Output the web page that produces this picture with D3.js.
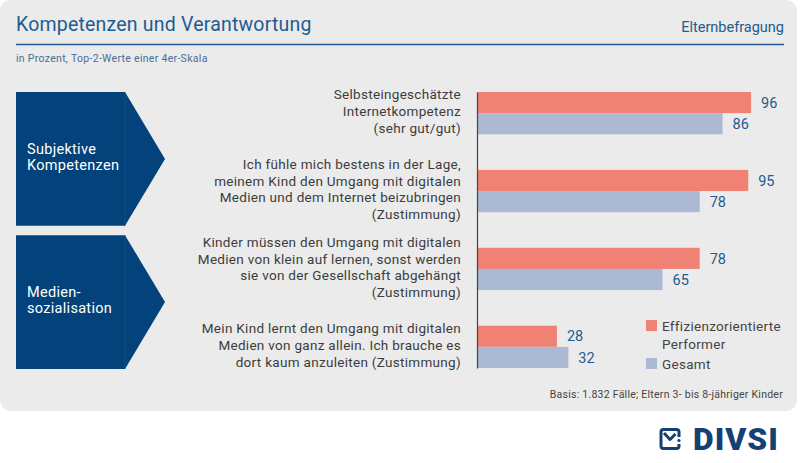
<!DOCTYPE html>
<html><head><meta charset="utf-8">
<script src="https://cdn.jsdelivr.net/npm/d3@7"></script>
<style>
html,body{margin:0;padding:0;background:#fff;}
svg{display:block;font-family:Roboto,"DejaVu Sans",sans-serif;}
</style></head>
<body>
<svg id="chart" width="800" height="463"></svg>
<script>
const title = "Kompetenzen und Verantwortung";
const topRight = "Elternbefragung";
const subtitle = "in Prozent, Top-2-Werte einer 4er-Skala";
const footnote = "Basis: 1.832 Fälle; Eltern 3- bis 8-jähriger Kinder";

const sections = ["Subjektive Kompetenzen", "Mediensozialisation"];
const sectionLines = [["Subjektive", "Kompetenzen"], ["Medien-", "sozialisation"]];

const categories = ["c1", "c2", "c3", "c4"];
const categoryLines = [
  ["Selbsteingeschätzte", "Internetkompetenz", "(sehr gut/gut)"],
  ["Ich fühle mich bestens in der Lage,", "meinem Kind den Umgang mit digitalen", "Medien und dem Internet beizubringen", "(Zustimmung)"],
  ["Kinder müssen den Umgang mit digitalen", "Medien von klein auf lernen, sonst werden", "sie von der Gesellschaft abgehängt", "(Zustimmung)"],
  ["Mein Kind lernt den Umgang mit digitalen", "Medien von ganz allein. Ich brauche es", "dort kaum anzuleiten (Zustimmung)"]
];
const seriesNames = ["Effizienzorientierte Performer", "Gesamt"];
const legendLines = [["Effizienzorientierte", "Performer"], ["Gesamt"]];
const effizienz = [96, 95, 78, 28];
const gesamt = [86, 78, 65, 32];

const colors = ["#f08275", "#abb9d5"];
const blue = "#1f5b92";
const navy = "#03427a";

const svg = d3.select("#chart");

// panel
svg.append("rect").attr("x", 0).attr("y", 0).attr("width", 797).attr("height", 411)
  .attr("rx", 11).attr("fill", "#ebebeb");

// header
svg.append("text").attr("x", 16).attr("y", 31).attr("font-size", 19.5)
  .attr("letter-spacing", 0.2).attr("fill", blue).text(title);
svg.append("text").attr("x", 784).attr("y", 32).attr("text-anchor", "end")
  .attr("font-size", 14.5).attr("fill", blue).text(topRight);
svg.append("line").attr("x1", 16).attr("x2", 784).attr("y1", 44.5).attr("y2", 44.5)
  .attr("stroke", blue).attr("stroke-width", 1.5);
svg.append("text").attr("x", 16).attr("y", 62).attr("font-size", 10.5)
  .attr("letter-spacing", 0.3).attr("fill", "#4a6d93").text(subtitle);

// scales
const x = d3.scaleLinear().domain([0, 100]).range([477, 762.5]);
const y = d3.scaleBand().domain(categories).range([92, 368]).paddingInner(0.457);
const ySub = d3.scaleBand().domain([0, 1]).range([0, y.bandwidth()]);
const ySec = d3.scaleBand().domain(sections).range([92, 369]).paddingInner(0.065);

// section arrows
const secG = svg.append("g");
sections.forEach((s, i) => {
  const t = ySec(s), b = t + ySec.bandwidth(), m = (t + b) / 2;
  const xl = 16, xr = 125, xp = 165;
  secG.append("path")
    .attr("d", `M${xl},${t}L${xr},${t}L${xp},${m}L${xr},${b}L${xl},${b}Z`)
    .attr("fill", navy);
  secG.append("line").attr("x1", xr).attr("x2", xr).attr("y1", t).attr("y2", b)
    .attr("stroke", "#1a5088").attr("stroke-width", 0.8);
  const lines = sectionLines[i];
  const lh = 16.8;
  const tx = secG.append("text").attr("font-size", 14.5).attr("fill", "#fff")
    .attr("letter-spacing", 0.3);
  lines.forEach((l, j) => {
    tx.append("tspan").attr("x", 27)
      .attr("y", m - (lines.length - 1) / 2 * lh + j * lh + 3)
      .text(l);
  });
});

// category labels
const labG = svg.append("g");
categories.forEach((c, i) => {
  const lines = categoryLines[i];
  const lh = 16.7;
  const cy = y(c) + y.bandwidth() / 2;
  const tx = labG.append("text").attr("text-anchor", "end").attr("font-size", 13.5)
    .attr("letter-spacing", 0.3).attr("fill", "#3c3c3c");
  lines.forEach((l, j) => {
    tx.append("tspan").attr("x", 461)
      .attr("y", cy - (lines.length - 1) / 2 * lh + j * lh + 3)
      .text(l);
  });
});

// bars
const data = categories.map((c, i) => ({ c, vals: [effizienz[i], gesamt[i]] }));
const groups = svg.append("g").selectAll("g").data(data).join("g")
  .attr("transform", d => `translate(0,${y(d.c)})`);
groups.selectAll("rect").data(d => d.vals.map((v, k) => ({ v, k }))).join("rect")
  .attr("x", x(0)).attr("y", d => ySub(d.k))
  .attr("width", d => x(d.v) - x(0)).attr("height", ySub.bandwidth())
  .attr("fill", d => colors[d.k]);
groups.selectAll("text").data(d => d.vals.map((v, k) => ({ v, k }))).join("text")
  .attr("x", d => x(d.v) + 10).attr("y", d => ySub(d.k) + ySub.bandwidth() / 2)
  .attr("dy", "0.36em").attr("font-size", 14.5).attr("fill", blue)
  .text(d => d.v);

// axis line
svg.append("g").attr("transform", `translate(${x(0)},0)`)
  .call(d3.axisLeft(y).tickSize(0).tickFormat(""))
  .call(g => g.select(".domain").attr("stroke", "#444").attr("stroke-width", 1.2));

// legend
const legG = svg.append("g");
const legY = [320, 358];
seriesNames.forEach((s, i) => {
  legG.append("rect").attr("x", 646).attr("y", legY[i]).attr("width", 11).attr("height", 11)
    .attr("fill", colors[i]);
  const tx = legG.append("text").attr("font-size", 13.5).attr("letter-spacing", 0.3)
    .attr("fill", "#444");
  legendLines[i].forEach((l, j) => {
    tx.append("tspan").attr("x", 662).attr("y", legY[i] + 11 + j * 17.5).text(l);
  });
});

// footnote
svg.append("text").attr("x", 783).attr("y", 397.5).attr("text-anchor", "end")
  .attr("font-size", 10.5).attr("letter-spacing", 0.25).attr("fill", "#444").text(footnote);

// logo
const logo = svg.append("g");
logo.append("path")
  .attr("d", "M679,437 L679,432 Q679,429.5 676.5,429.5 L663.5,429.5 Q661,429.5 661,432 L661,446 Q661,448.5 663.5,448.5 L676.5,448.5 Q679,448.5 679,446 L679,444")
  .attr("fill", "none").attr("stroke", "#163f73").attr("stroke-width", 3);
logo.append("path").attr("d", "M664,433 L670,439.5 L675.5,434")
  .attr("fill", "none").attr("stroke", "#163f73").attr("stroke-width", 3)
  .attr("stroke-linejoin", "round");
logo.append("circle").attr("cx", 679).attr("cy", 440.5).attr("r", 1.6).attr("fill", "#163f73");
logo.append("text").attr("x", 693).attr("y", 449.5).attr("font-size", 31)
  .attr("font-weight", 900).attr("fill", "#163f73").attr("letter-spacing", 1)
  .attr("textLength", 86).attr("lengthAdjust", "spacingAndGlyphs").text("DIVSI");
</script>
</body></html>
